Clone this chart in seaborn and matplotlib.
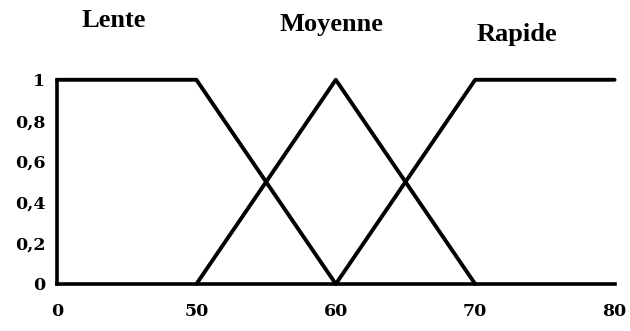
import matplotlib
matplotlib.use("Agg")
import matplotlib.pyplot as plt
import seaborn as sns
import pandas as pd

# Fuzzy membership functions for speed
x_ticks = [0, 50, 60, 70, 80]
y_ticks = [0, 0.2, 0.4, 0.6, 0.8, 1]
y_tick_labels = ["0", "0,2", "0,4", "0,6", "0,8", "1"]

lente_x = [0, 50, 60]
lente_y = [1, 1, 0]
moyenne_x = [50, 60, 70]
moyenne_y = [0, 1, 0]
rapide_x = [60, 70, 80]
rapide_y = [0, 1, 1]

set_names = ["Lente", "Moyenne", "Rapide"]

rows = []
for name, xs, ys in zip(set_names, [lente_x, moyenne_x, rapide_x],
                        [lente_y, moyenne_y, rapide_y]):
    for xv, yv in zip(xs, ys):
        # ticks are evenly spaced, so plot against tick index
        rows.append({"pos": x_ticks.index(xv), "mu": yv, "set": name})
df = pd.DataFrame(rows)

sns.set_theme(style="white")
plt.rcParams["font.family"] = ["Liberation Serif", "DejaVu Serif"]
plt.rcParams["font.weight"] = "bold"

fig = plt.figure(figsize=(6.3, 3.31), dpi=100)
ax = fig.add_axes([0.0905, 0.142, 0.885, 0.617])

sns.lineplot(data=df, x="pos", y="mu", hue="set", units="set",
             estimator=None, palette=["black"] * 3, linewidth=2.8,
             legend=False, ax=ax, clip_on=False, sort=False)

tick_font = {"family": "DejaVu Serif", "size": 12.5, "weight": "bold"}
ax.set_xlim(0, len(x_ticks) - 1)
ax.set_ylim(0, 1)
ax.set_xticks(range(len(x_ticks)))
ax.set_xticklabels([str(v) for v in x_ticks], fontdict=tick_font)
ax.set_yticks(y_ticks)
ax.set_yticklabels(y_tick_labels, fontdict=tick_font)
ax.set_xlabel("")
ax.set_ylabel("")

for side in ["top", "right"]:
    ax.spines[side].set_visible(False)
for side in ["left", "bottom"]:
    ax.spines[side].set_color("black")
    ax.spines[side].set_linewidth(2.6)
ax.tick_params(axis="both", direction="inout", length=5, width=2.6,
               colors="black")
ax.tick_params(axis="y", pad=6)
ax.tick_params(axis="x", pad=11)

# set labels above the curves
label_pos = [(0.41, 1.29), (1.97, 1.27), (3.30, 1.22)]
for name, (lx, ly) in zip(set_names, label_pos):
    ax.text(lx, ly, name, ha="center", va="center", fontsize=19,
            fontweight="bold", color="black")

fig.savefig("out.png", dpi=100, facecolor="white")
